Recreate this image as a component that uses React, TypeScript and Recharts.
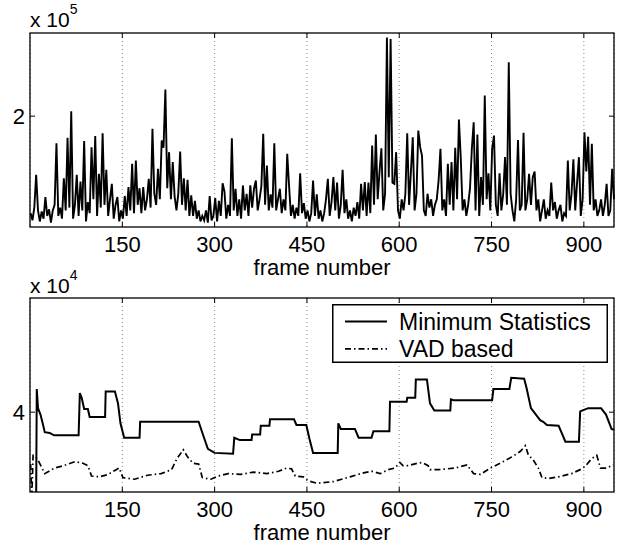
import React from "react";
import { LineChart, Line, XAxis, YAxis, CartesianGrid, Legend } from "recharts";

// frame axis
const frameTicks = [150, 300, 450, 600, 750, 900];
const frameDomain = [0, 949];
const FRAME_STEP = 3; // top panel sampled every 3 frames starting at frame 1

// top panel (x 10^5), one value per sampled frame
const topValues = [
  0.25, 0.12, 0.35, 0.94, 0.3, 0.1, 0.28, 0.15, 0.54, 0.2, 0.32, 0.08, 0.3, 0.4, 1.51, 0.2, 0.35, 0.15, 0.88, 0.3,
  1.61, 0.35, 2.09, 0.15, 0.4, 0.94, 0.2, 0.82, 0.3, 1.55, 0.1, 0.45, 0.25, 1.44, 0.5, 1.64, 0.2, 0.96, 0.35, 1.69,
  0.4, 1.03, 0.2, 0.5, 0.78, 0.15, 0.4, 0.54, 0.1, 0.3, 0.15, 0.56, 0.2, 0.72, 0.3, 1.14, 0.25, 1.2, 0.4, 0.7,
  0.25, 0.72, 0.3, 0.5, 0.87, 0.35, 1.77, 0.6, 0.4, 1.05, 0.5, 1.56, 1.43, 2.48, 0.7, 1.35, 0.5, 1.17, 0.55, 0.3,
  0.6, 1.36, 0.4, 0.88, 0.3, 0.85, 0.2, 0.57, 0.2, 0.47, 0.15, 0.3, 0.1, 0.2, 0.12, 0.3, 0.08, 0.56, 0.12, 0.2,
  0.52, 0.1, 0.47, 0.2, 0.79, 0.64, 0.15, 0.4, 0.2, 1.6, 0.3, 0.69, 0.2, 0.5, 0.15, 0.75, 0.3, 0.6, 0.2, 0.75,
  0.35, 0.69, 0.84, 0.3, 0.5, 0.74, 1.68, 0.4, 1.11, 0.3, 0.59, 0.35, 1.51, 0.3, 0.5, 0.69, 0.25, 0.5, 0.3, 1.32,
  0.74, 0.2, 0.4, 0.15, 0.35, 0.2, 0.97, 0.25, 0.43, 0.15, 0.3, 0.1, 0.25, 0.84, 0.2, 0.59, 0.15, 0.3, 0.1, 0.25,
  0.5, 0.87, 0.2, 0.45, 0.9, 0.3, 0.8, 0.15, 0.4, 1.03, 0.25, 0.5, 0.15, 0.3, 0.1, 0.35, 0.2, 0.45, 0.15, 0.78,
  0.3, 0.81, 0.2, 0.8, 0.25, 1.47, 0.4, 1.67, 0.5, 1.0, 1.42, 0.3, 0.6, 3.42, 0.9, 3.39, 0.8, 0.78, 1.35, 0.3,
  0.15, 0.5, 0.3, 0.6, 1.69, 0.4, 1.0, 1.62, 0.3, 0.6, 1.74, 1.44, 1.29, 0.3, 0.2, 0.6, 0.35, 0.5, 0.2, 0.4,
  0.5, 0.84, 1.41, 0.3, 0.5, 0.2, 1.14, 0.4, 1.17, 0.3, 1.43, 0.5, 1.94, 1.24, 0.3, 0.5, 0.2, 0.4, 0.7, 1.41,
  1.89, 0.3, 1.67, 0.2, 0.9, 0.4, 2.37, 0.5, 0.97, 0.3, 1.41, 1.65, 0.4, 0.2, 0.97, 0.3, 0.6, 1.26, 0.4, 2.97,
  0.6, 0.3, 0.1, 0.5, 1.57, 0.3, 0.4, 1.7, 0.3, 0.5, 0.96, 0.4, 0.9, 1.0, 0.3, 0.5, 0.1, 0.3, 0.5, 0.15,
  0.3, 0.2, 0.8, 0.3, 0.45, 0.15, 0.3, 0.4, 0.1, 0.25, 0.2, 1.2, 0.3, 0.6, 1.22, 0.3, 0.8, 1.26, 0.2, 0.5,
  1.71, 1.0, 1.63, 0.4, 1.5, 0.3, 0.5, 0.2, 0.3, 0.5, 0.2, 0.4, 0.78, 0.2, 0.3, 1.05, 0.5,
];
const topTicks = [2];

// bottom panel (x 10^4), breakpoints
const msFrames = [
  1, 10, 11, 13, 17, 20, 24, 32, 39, 79, 81, 84, 88, 94, 97, 122, 123, 138, 143, 147, 153, 178, 179, 274, 281, 289,
  300, 330, 332, 341, 360, 361, 374, 375, 389, 390, 429, 433, 449, 454, 460, 500, 501, 505, 528, 534, 555, 558, 584,
  585, 612, 613, 626, 627, 645, 650, 657, 683, 684, 688, 751, 753, 779, 782, 803, 807, 814, 829, 834, 840, 859, 864,
  870, 892, 894, 907, 928, 936, 945, 949,
];
const msValues = [
  2.9, 2.9, 4.29, 4.05, 3.97, 3.88, 3.75, 3.74, 3.71, 3.71, 4.24, 4.18, 4.04, 4.04, 3.94, 3.94, 4.26, 4.26, 4.11, 3.86,
  3.68, 3.68, 3.88, 3.88, 3.72, 3.54, 3.49, 3.48, 3.68, 3.65, 3.65, 3.72, 3.72, 3.83, 3.83, 3.91, 3.91, 3.84, 3.84,
  3.67, 3.49, 3.49, 3.86, 3.79, 3.79, 3.68, 3.68, 3.76, 3.76, 4.13, 4.13, 4.18, 4.18, 4.41, 4.41, 4.11, 4.02, 4.02,
  4.16, 4.15, 4.15, 4.29, 4.29, 4.43, 4.42, 4.3, 4.05, 3.9, 3.88, 3.84, 3.83, 3.74, 3.63, 3.63, 4.01, 4.05, 4.05,
  3.97, 3.79, 3.78,
];
const vadFrames = [
  1, 3, 5, 7, 13, 24, 40, 55, 73, 86, 94, 100, 113, 127, 140, 145, 151, 170, 191, 213, 230, 239, 249, 256, 265, 274,
  280, 294, 306, 322, 342, 363, 385, 404, 417, 425, 431, 444, 452, 466, 493, 520, 542, 555, 569, 582, 593, 601, 606,
  615, 629, 637, 647, 650, 664, 691, 710, 721, 732, 748, 764, 783, 797, 805, 810, 817, 826, 832, 843, 859, 880, 894,
  902, 913, 921, 927, 937, 948,
];
const vadValues = [
  3.35, 2.95, 3.46, 3.46, 3.4, 3.23, 3.3, 3.33, 3.38, 3.36, 3.33, 3.2, 3.19, 3.22, 3.28, 3.3, 3.18, 3.16, 3.21, 3.23,
  3.28, 3.42, 3.53, 3.44, 3.36, 3.35, 3.18, 3.16, 3.2, 3.23, 3.22, 3.25, 3.23, 3.26, 3.3, 3.29, 3.2, 3.19, 3.14, 3.11,
  3.13, 3.19, 3.24, 3.26, 3.23, 3.28, 3.3, 3.37, 3.33, 3.33, 3.36, 3.37, 3.33, 3.28, 3.28, 3.3, 3.34, 3.23, 3.22, 3.3,
  3.36, 3.44, 3.51, 3.58, 3.46, 3.41, 3.3, 3.18, 3.17, 3.19, 3.23, 3.28, 3.32, 3.42, 3.46, 3.3, 3.3, 3.34,
];
const bottomTicks = [4];

const topData = topValues.map((v, i) => ({ frame: 1 + i * FRAME_STEP, value: v }));
const msData = msFrames.map((f, i) => ({ frame: f, value: msValues[i] }));
const vadData = vadFrames.map((f, i) => ({ frame: f, value: vadValues[i] }));

const FONT = '"Liberation Sans", Arial, Helvetica, sans-serif';
const W = 626;
const CH = 284;
const PT = 33;
const PB = 227;
const PL = 30;
const PR = 614;
const BOTTOM_TOP = 265;
const DASHDOT = "6 3 1.5 3";

const XTick = (props: any) => {
  const { x, payload } = props;
  return (
    <g>
      <line x1={x} x2={x} y1={PB} y2={PB - 5} stroke="#000" />
      <line x1={x} x2={x} y1={PT} y2={PT + 5} stroke="#000" />
      <text x={x} y={PB + 25} textAnchor="middle" fontSize={22} fontFamily={FONT} fill="#000">
        {payload.value}
      </text>
    </g>
  );
};

const YTick = (props: any) => {
  const { y, payload } = props;
  return (
    <g>
      <line x1={PL} x2={PL + 5} y1={y} y2={y} stroke="#000" />
      <line x1={PR} x2={PR - 5} y1={y} y2={y} stroke="#000" />
      <text x={PL - 5} y={y + 8} textAnchor="end" fontSize={22} fontFamily={FONT} fill="#000">
        {payload.value}
      </text>
    </g>
  );
};

const LegendBox = (props: any) => {
  const items = props.payload || [];
  return (
    <svg width={276} height={59} style={{ display: "block" }}>
      <rect x={0.75} y={0.75} width={274.5} height={57.5} fill="#fff" stroke="#000" strokeWidth={1.5} />
      {items.map((it: any, i: number) => {
        const cy = 17.5 + i * 27.3;
        return (
          <g key={it.value}>
            <line
              x1={13}
              x2={55}
              y1={cy}
              y2={cy}
              stroke="#000"
              strokeWidth={1.8}
              strokeDasharray={it.payload?.strokeDasharray}
            />
            <text x={67} y={cy + 8.3} fontSize={23} fontFamily={FONT} fill="#000">
              {it.value}
            </text>
          </g>
        );
      })}
    </svg>
  );
};

export default function App() {
  const xLabel = {
    value: "frame number",
    position: "insideBottom" as const,
    offset: 9,
    fontSize: 22,
    fill: "#000",
    fontFamily: FONT,
  };
  return (
    <div style={{ position: "absolute", left: 0, top: 0, width: W, height: 549, background: "#fff", fontFamily: FONT }}>
      <div style={{ position: "absolute", left: 0, top: 0 }}>
        <LineChart width={W} height={CH} data={topData} margin={{ top: PT, right: W - PR, bottom: 0, left: 0 }}>
          <CartesianGrid horizontal={false} stroke="#888" strokeDasharray="1 3" />
          <XAxis
            dataKey="frame"
            type="number"
            domain={frameDomain}
            ticks={frameTicks}
            interval={0}
            height={CH - PB}
            tick={XTick}
            tickLine={false}
            axisLine={false}
            label={xLabel}
          />
          <YAxis type="number" domain={[0, 3.5]} ticks={topTicks} width={PL} tick={YTick} tickLine={false} axisLine={false} />
          <Line dataKey="value" stroke="#000" strokeWidth={1.9} dot={false} isAnimationActive={false} />
        </LineChart>
      </div>
      <div style={{ position: "absolute", left: 0, top: BOTTOM_TOP }}>
        <LineChart width={W} height={CH} margin={{ top: PT, right: W - PR, bottom: 0, left: 0 }}>
          <CartesianGrid horizontal={false} stroke="#888" strokeDasharray="1 3" />
          <XAxis
            dataKey="frame"
            type="number"
            domain={frameDomain}
            ticks={frameTicks}
            interval={0}
            height={CH - PB}
            tick={XTick}
            tickLine={false}
            axisLine={false}
            label={xLabel}
            allowDuplicatedCategory={false}
          />
          <YAxis type="number" domain={[3, 5.43]} allowDataOverflow ticks={bottomTicks} width={PL} tick={YTick} tickLine={false} axisLine={false} />
          <Line data={msData} dataKey="value" name="Minimum Statistics" stroke="#000" strokeWidth={2} dot={false} isAnimationActive={false} />
          <Line data={vadData} dataKey="value" name="VAD based" stroke="#000" strokeWidth={1.7} strokeDasharray={DASHDOT} dot={false} isAnimationActive={false} />
          <Legend
            layout="horizontal"
            verticalAlign="middle"
            align="center"
            content={<LegendBox />}
            wrapperStyle={{ left: 332, top: 39, width: 276, height: 59 }}
          />
        </LineChart>
      </div>
      <svg width={W} height={549} style={{ position: "absolute", left: 0, top: 0, pointerEvents: "none" }}>
        {/* axes boxes */}
        <rect x={PL} y={PT} width={PR - PL} height={PB - PT} fill="none" stroke="#000" strokeWidth={1.3} />
        <rect x={PL} y={PT + BOTTOM_TOP} width={PR - PL} height={PB - PT} fill="none" stroke="#000" strokeWidth={1.3} />
        <text x={30} y={27} fontSize={21} fontFamily={FONT} fill="#000">
          x 10<tspan dy={-13} fontSize={14}>5</tspan>
        </text>
        <text x={30} y={293} fontSize={21} fontFamily={FONT} fill="#000">
          x 10<tspan dy={-13} fontSize={14}>4</tspan>
        </text>
      </svg>
    </div>
  );
}
